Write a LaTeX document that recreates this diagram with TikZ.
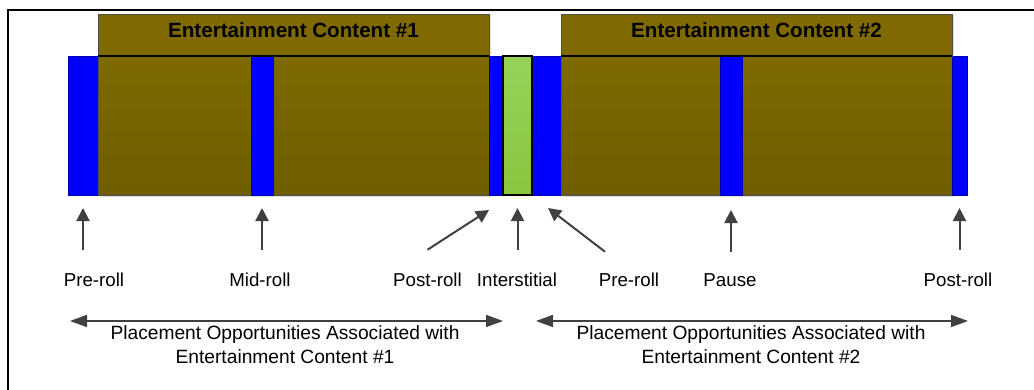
\documentclass[tikz,border=0pt]{standalone}
\usepackage{fontspec}
\setmainfont{Liberation Sans}
\usetikzlibrary{arrows.meta,shadows}

\definecolor{ecHead}{RGB}{128,106,0}
\definecolor{ecTop}{RGB}{126,106,0}
\definecolor{ecBot}{RGB}{111,94,0}
\definecolor{adBlue}{RGB}{0,0,255}
\definecolor{inTop}{RGB}{148,211,88}
\definecolor{inBot}{RGB}{136,198,62}
\definecolor{edgeGray}{RGB}{80,80,80}
\definecolor{arrowGray}{RGB}{64,64,64}

\begin{document}
\begin{tikzpicture}[x=1pt,y=1pt,
  slot/.style={draw=edgeGray,line width=0.7pt,inner sep=0pt,outer sep=0pt,
    anchor=south west,minimum height=139pt},
  content/.style={slot,top color=ecTop,bottom color=ecBot,
    drop shadow={opacity=0.25,shadow xshift=1.5pt,shadow yshift=-1.5pt}},
  header/.style={draw=edgeGray,fill=ecHead,line width=0.7pt,inner sep=0pt,outer sep=0pt,
    anchor=south west,minimum width=391pt,minimum height=42pt,
    text height=15pt,text depth=10pt,font=\bfseries\fontsize{20.6}{24}\selectfont,
    drop shadow={opacity=0.25,shadow xshift=1.5pt,shadow yshift=-1.5pt}},
  ad/.style={slot,fill=adBlue,draw=blue!70!black},
  filler/.style={slot,top color=inTop,bottom color=inBot,draw=black,line width=1.2pt},
  label/.style={anchor=base,inner sep=0pt,font=\fontsize{18.7}{22}\selectfont},
  pointer/.style={draw=arrowGray,line width=2pt,-{Triangle[length=13pt,width=13pt]}},
  span/.style={draw=arrowGray,line width=1.6pt,
    {Triangle[length=17pt,width=12pt]}-{Triangle[length=17pt,width=12pt]}},
  note/.style={align=center,anchor=north,inner sep=0pt,font=\fontsize{19.2}{24}\selectfont}]

  \useasboundingbox (0,0) rectangle (1034,389);
  \clip (0,0) rectangle (1034,389);

  % frame
  \draw[line width=2.3pt] (8,379) rectangle (1060,-30);

  % Entertainment content #1

  \node[ad] (pr1) at (68,194) [minimum width=30pt] {};
  \node[content] (ec1) at (98,194) [minimum width=391pt] {};
  \node[ad] (mid) at (251,194) [minimum width=22pt] {};
  \node[header] (hd1) at (98,333) {Entertainment Content \#1};
  \draw[line width=1.3pt] (hd1.south west) -- (hd1.south east);

  % break between the two

  \node[ad] (gap) at (489,194) [minimum width=72pt] {};
  \node[filler] (in) at (503,194) [minimum width=29pt] {};

  % Entertainment content #2

  \node[content] (ec2) at (561,194) [minimum width=391pt] {};
  \node[ad] (pa) at (720,194) [minimum width=22pt] {};
  \node[ad] (po2) at (952,194) [minimum width=15pt] {};
  \node[header] (hd2) at (561,333) {Entertainment Content \#2};
  \draw[line width=1.3pt] (hd2.south west) -- (hd2.south east);

  % labels

  \node[label] (lp1) at (94,103) {Pre-roll};
  \node[label] (lmid) at (260,103) {Mid-roll};
  \node[label] (lpo1) at (427.5,103) {Post-roll};
  \node[label] (lin) at (517,103) {Interstitial};
  \node[label] (lp2) at (629,103) {Pre-roll};
  \node[label] (lpa) at (730,103) {Pause};
  \node[label] (lpo2) at (958,103) {Post-roll};

  \draw[pointer] ([yshift=22.5pt]lp1.north -| pr1.south) -- ([yshift=-13pt]pr1.south);
  \draw[pointer] ([yshift=22.5pt]lmid.north -| mid.south) -- ([yshift=-13pt]mid.south);
  \draw[pointer] ([yshift=22.5pt]lpo1.north) -- ([yshift=-15pt]gap.south west);
  \draw[pointer] ([yshift=22.5pt]lin.north -| in.south) -- ([yshift=-13pt]in.south);
  \draw[pointer] ([xshift=-24pt,yshift=20.5pt]lp2.north) -- ([xshift=-13pt,yshift=-13pt]ec2.south west);
  \draw[pointer] ([yshift=20.5pt]lpa.north -| pa.south) -- ([yshift=-15pt]pa.south);
  \draw[pointer] ([yshift=22.5pt]lpo2.north -| po2.south) -- ([yshift=-13pt]po2.south);

  % placement opportunities

  \coordinate (s1a) at (70,68);
  \coordinate (s1b) at (503,68);
  \coordinate (s2a) at (536,68);
  \coordinate (s2b) at (968,68);
  \draw[span] (s1a) -- (s1b);
  \draw[span] (s2a) -- (s2b);

  \node[note] (op1) at (285,64) {Placement Opportunities Associated with\\Entertainment Content \#1};
  \node[note] (op2) at (751,64) {Placement Opportunities Associated with\\Entertainment Content \#2};
\end{tikzpicture}
\end{document}
